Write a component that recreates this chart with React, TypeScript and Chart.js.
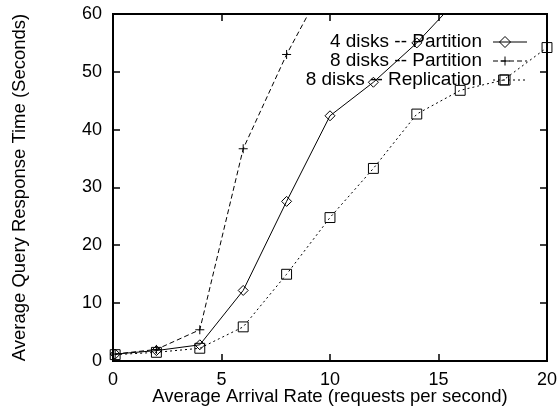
import React, { useEffect, useRef } from "react";
import { Chart, registerables } from "chart.js";

Chart.register(...registerables);

const FONT = '"Liberation Sans", Arial, Helvetica, sans-serif';

const xTitle = "Average Arrival Rate (requests per second)";
const yTitle = "Average Query Response Time (Seconds)";

const labels4Part = "4 disks -- Partition";
const labels8Part = "8 disks -- Partition";
const labels8Repl = "8 disks -- Replication";

const rate4Part = [0.1, 2, 4, 6, 8, 10, 12, 14, 16];
const time4Part = [1.2, 1.8, 2.8, 12.2, 27.6, 42.4, 48.2, 55.0, 63];

const rate8Part = [0.1, 2, 4, 6, 8, 10];
const time8Part = [1.2, 2.0, 5.4, 36.7, 53.0, 67];

const rate8Repl = [0.1, 2, 4, 6, 8, 10, 12, 14, 16, 18, 20];
const time8Repl = [1.1, 1.5, 2.2, 5.9, 15.0, 24.8, 33.3, 42.7, 46.8, 48.6, 54.2];

const xTicks = [0, 5, 10, 15, 20];
const yTicks = [0, 10, 20, 30, 40, 50, 60];

const toPts = (xs: number[], ys: number[]) => xs.map((x, i) => ({ x, y: ys[i] }));

function drawMarker(ctx: CanvasRenderingContext2D, kind: string, x: number, y: number) {
  ctx.beginPath();
  if (kind === "diamond") {
    const r = 5.5;
    ctx.moveTo(x, y - r);
    ctx.lineTo(x + r, y);
    ctx.lineTo(x, y + r);
    ctx.lineTo(x - r, y);
    ctx.closePath();
  } else if (kind === "plus") {
    const r = 4.5;
    ctx.moveTo(x - r, y);
    ctx.lineTo(x + r, y);
    ctx.moveTo(x, y - r);
    ctx.lineTo(x, y + r);
  } else {
    const r = 5;
    ctx.rect(x - r, y - r, 2 * r, 2 * r);
  }
  ctx.stroke();
}

const gnuFrame = {
  id: "gnuFrame",
  afterDraw(chart: any) {
    const { ctx, chartArea: a, scales } = chart;
    ctx.save();
    ctx.strokeStyle = "#000";
    ctx.setLineDash([]);
    ctx.lineWidth = 2;
    ctx.strokeRect(a.left, a.top, a.right - a.left, a.bottom - a.top);
    ctx.lineWidth = 1.5;
    const tl = 7;
    ctx.beginPath();
    scales.x.ticks.forEach((t: any) => {
      const px = Math.round(scales.x.getPixelForValue(t.value));
      ctx.moveTo(px, a.bottom);
      ctx.lineTo(px, a.bottom - tl);
      ctx.moveTo(px, a.top);
      ctx.lineTo(px, a.top + tl);
    });
    scales.y.ticks.forEach((t: any) => {
      const py = Math.round(scales.y.getPixelForValue(t.value));
      ctx.moveTo(a.left, py);
      ctx.lineTo(a.left + tl, py);
      ctx.moveTo(a.right, py);
      ctx.lineTo(a.right - tl, py);
    });
    ctx.stroke();

    // gnuplot-style key
    const markers = ["diamond", "plus", "square"];
    const rowY = [42, 61, 80];
    ctx.font = `19px ${FONT}`;
    ctx.fillStyle = "#000";
    ctx.textAlign = "right";
    ctx.textBaseline = "middle";
    chart.data.datasets.forEach((ds: any, i: number) => {
      const y = rowY[i];
      ctx.fillText(ds.label, 482, y);
      ctx.lineWidth = 1;
      ctx.strokeStyle = ds.borderColor;
      ctx.setLineDash(ds.borderDash || []);
      ctx.beginPath();
      ctx.moveTo(493, y);
      ctx.lineTo(527, y);
      ctx.stroke();
      ctx.setLineDash([]);
      drawMarker(ctx, markers[i], 505, y);
    });
    ctx.restore();
  },
};

export default function App() {
  const ref = useRef<HTMLCanvasElement>(null);
  useEffect(() => {
    if (!ref.current) return;
    const common = {
      borderColor: "#000",
      borderWidth: 1,
      pointBackgroundColor: "rgba(0,0,0,0)",
      pointBorderColor: "#000",
      pointBorderWidth: 1,
      tension: 0,
      fill: false,
      clip: { left: 10, right: 10, top: 0, bottom: 10 },
    };
    const chart = new Chart(ref.current, {
      type: "line",
      data: {
        datasets: [
          {
            ...common,
            label: labels4Part,
            data: toPts(rate4Part, time4Part),
            pointStyle: "rectRot",
            pointRadius: 5,
          },
          {
            ...common,
            label: labels8Part,
            data: toPts(rate8Part, time8Part),
            borderDash: [5, 3],
            pointStyle: "cross",
            pointRadius: 4.5,
          },
          {
            ...common,
            label: labels8Repl,
            data: toPts(rate8Repl, time8Repl),
            borderDash: [2, 3],
            pointStyle: "rect",
            pointRadius: 7,
          },
        ],
      },
      options: {
        animation: false,
        responsive: true,
        maintainAspectRatio: false,
        layout: { padding: { left: 0, right: 12, top: 14, bottom: 0 } },
        plugins: { legend: { display: false }, tooltip: { enabled: false } },
        scales: {
          x: {
            type: "linear",
            min: 0,
            max: 20,
            afterBuildTicks: (s: any) => {
              s.ticks = xTicks.map((v) => ({ value: v }));
            },
            afterFit: (s: any) => {
              s.height = 50;
              s.paddingLeft = 0;
              s.paddingRight = 0;
            },
            grid: { display: false, drawTicks: false },
            border: { display: false },
            ticks: {
              color: "#000",
              font: { family: FONT, size: 18 },
              padding: 8,
              maxRotation: 0,
            },
            title: {
              display: true,
              text: xTitle,
              color: "#000",
              font: { family: FONT, size: 18.5 },
              padding: { top: 0, bottom: 3 },
            },
          },
          y: {
            type: "linear",
            min: 0,
            max: 60,
            afterBuildTicks: (s: any) => {
              s.ticks = yTicks.map((v) => ({ value: v }));
            },
            afterFit: (s: any) => {
              s.width = 113;
              s.paddingTop = 0;
              s.paddingBottom = 0;
            },
            grid: { display: false, drawTicks: false },
            border: { display: false },
            ticks: {
              color: "#000",
              font: { family: FONT, size: 18 },
              padding: 11,
            },
            title: {
              display: true,
              text: yTitle,
              color: "#000",
              font: { family: FONT, size: 18.5 },
              padding: { top: 9, bottom: 0 },
            },
          },
        },
      },
      plugins: [gnuFrame],
    });
    return () => chart.destroy();
  }, []);
  return (
    <div style={{ position: "absolute", left: 0, top: 0, width: 559, height: 411, background: "#fff" }}>
      <canvas ref={ref} />
    </div>
  );
}
